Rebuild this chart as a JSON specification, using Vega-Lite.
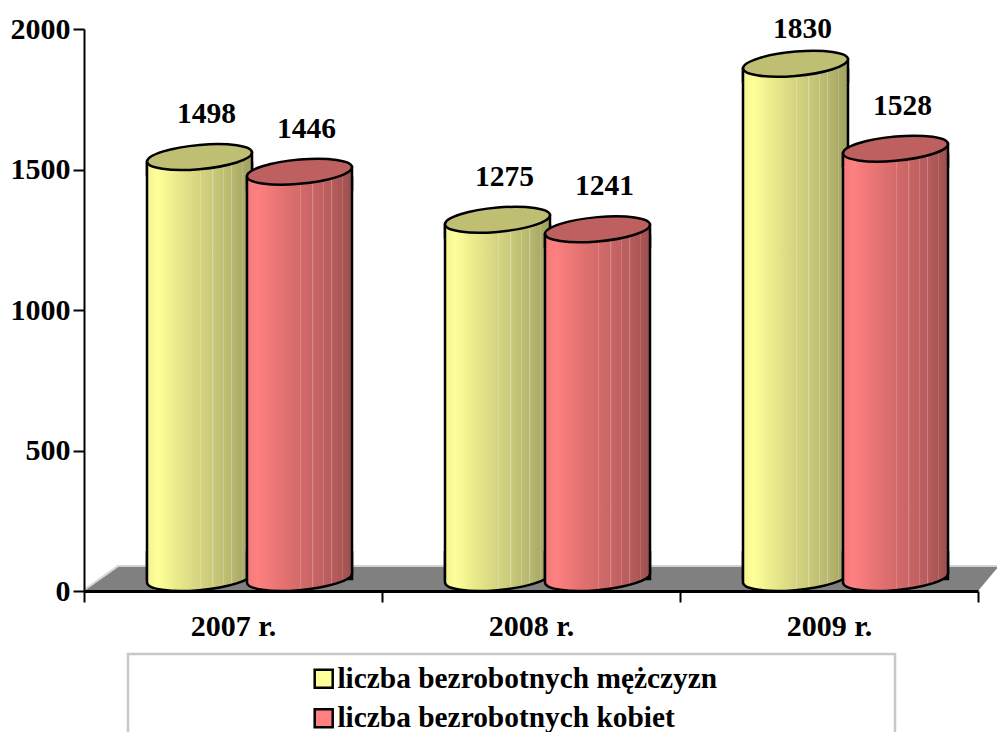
{
"$schema":"https://vega.github.io/schema/vega-lite/v6.json",
"width":894,"height":562,
"autosize":{"type":"none"},
"padding":{"left":84,"top":29,"right":19,"bottom":141},
"background":"white",
"config":{"view":{"stroke":null},"font":"Liberation Serif"},
"datasets":{"d":[
{"rok":"2007 r.","seria":"liczba bezrobotnych mężczyzn","liczba":1498},
{"rok":"2007 r.","seria":"liczba bezrobotnych kobiet","liczba":1446},
{"rok":"2008 r.","seria":"liczba bezrobotnych mężczyzn","liczba":1275},
{"rok":"2008 r.","seria":"liczba bezrobotnych kobiet","liczba":1241},
{"rok":"2009 r.","seria":"liczba bezrobotnych mężczyzn","liczba":1830},
{"rok":"2009 r.","seria":"liczba bezrobotnych kobiet","liczba":1528}
],"decor":[{"rok":"2008 r.","poziom":0}]},
"layer":[
{"data":{"name":"decor"},
"mark":{"type":"point","shape":"M-447,0 L-413,-24 L467,-24 L447,0 Z","size":4,"filled":true,"fill":"#808080","stroke":null,"opacity":1,"clip":false},
"encoding":{"x":{"field":"rok","type":"nominal","title":null,"sort":["2007 r.","2008 r.","2009 r."],"scale":{"paddingInner":0,"paddingOuter":0},
 "axis":{"zindex":1,"labelAngle":0,"labelFont":"Liberation Serif","labelFontWeight":"bold","labelFontSize":30,"labelColor":"black","labelPadding":9,"tickBand":"extent","tickSize":11,"tickWidth":2,"tickColor":"black","domainColor":"black","domainWidth":3}},
 "y":{"field":"poziom","type":"quantitative","title":null,"scale":{"domain":[0,2000]},
 "axis":{"zindex":1,"values":[0,500,1000,1500,2000],"format":"d","grid":false,"labelFont":"Liberation Serif","labelFontWeight":"bold","labelFontSize":30,"labelColor":"black","labelPadding":3,"tickSize":11,"tickWidth":2,"tickColor":"black","domainColor":"black","domainWidth":2}}}},
{"data":{"name":"decor"},
"mark":{"type":"point","shape":"M-447,-1 L-413,-25 L467,-25","size":4,"filled":false,"stroke":"#D4D4D4","strokeWidth":2,"opacity":1,"clip":false},
"encoding":{"x":{"field":"rok","type":"nominal","title":null,"sort":["2007 r.","2008 r.","2009 r."],"scale":{"paddingInner":0,"paddingOuter":0}},"y":{"field":"poziom","type":"quantitative","title":null,"scale":{"domain":[0,2000]}}}},
{"data":{"name":"decor"},
"mark":{"type":"point","shape":"M-403,160 L-403,63 L364,63 L364,160","size":4,"filled":false,"stroke":"#C8C8C8","strokeWidth":2.5,"opacity":1,"clip":false},
"encoding":{"x":{"field":"rok","type":"nominal","title":null,"sort":["2007 r.","2008 r.","2009 r."],"scale":{"paddingInner":0,"paddingOuter":0}},"y":{"field":"poziom","type":"quantitative","title":null,"scale":{"domain":[0,2000]}}}},
{"data":{"name":"d"},
"mark":{"type":"bar","width":90,"yOffset":-7,"y2Offset":-12},
"encoding":{
"x":{"field":"rok","type":"nominal","title":null,"sort":["2007 r.","2008 r.","2009 r."],"scale":{"paddingInner":0,"paddingOuter":0}},
"xOffset":{"field":"seria","type":"nominal","sort":["liczba bezrobotnych mężczyzn","liczba bezrobotnych kobiet"],"scale":{"range":[65.5,265.5],"paddingInner":0,"paddingOuter":0}},
"y":{"field":"liczba","type":"quantitative","stack":null,"title":null,"scale":{"domain":[0,2000]}},
"y2":{"datum":0},
"color":{"field":"seria","type":"nominal","sort":["liczba bezrobotnych mężczyzn","liczba bezrobotnych kobiet"],"scale":{"domain":["liczba bezrobotnych mężczyzn","liczba bezrobotnych kobiet"],"range":["#FFFF99","#FF8080"]},
 "legend":{"title":null,"orient":"none","legendX":225,"legendY":635,"symbolType":"square","symbolSize":324,"symbolStrokeColor":"black","symbolStrokeWidth":2.5,"symbolOpacity":1,"labelFont":"Liberation Serif","labelFontWeight":"bold","labelFontSize":29.4,"labelColor":"black","labelOffset":-1,"rowPadding":8.5,"labelLimit":500}}
}},
{"data":{"name":"d"},
"transform":[{"filter":"datum.seria === 'liczba bezrobotnych mężczyzn'"}],
"encoding":{
"x":{"field":"rok","type":"nominal","title":null,"sort":["2007 r.","2008 r.","2009 r."]},
"xOffset":{"field":"seria","type":"nominal","sort":["liczba bezrobotnych mężczyzn","liczba bezrobotnych kobiet"]},
"y":{"field":"liczba","type":"quantitative","stack":null,"title":null}
},
"layer":[
{"mark":{"type":"bar","width":105,"yOffset":-7,"y2Offset":-12,"stroke":"black","strokeWidth":2.5,"fill":{"gradient":"linear","x1":0,"x2":1,"y1":0,"y2":0,"stops":[{"offset":0,"color":"#F2F292"},{"offset":0.1,"color":"#FFFF99"},{"offset":0.3,"color":"#E8E88C"},{"offset":0.5,"color":"#D4D480"},{"offset":0.505,"color":"#E6E6B4"},{"offset":0.515,"color":"#D3D380"},{"offset":0.62,"color":"#CACA7A"},{"offset":0.625,"color":"#DEDEAE"},{"offset":0.635,"color":"#C9C979"},{"offset":0.72,"color":"#C0C074"},{"offset":0.725,"color":"#D4D4A6"},{"offset":0.735,"color":"#BFBF73"},{"offset":0.8,"color":"#B8B86F"},{"offset":0.805,"color":"#CCCC9E"},{"offset":0.815,"color":"#B7B76E"},{"offset":0.9,"color":"#ACAC68"},{"offset":0.905,"color":"#C0C096"},{"offset":0.915,"color":"#ABAB67"},{"offset":1,"color":"#A0A060"}]}},
 "encoding":{"y2":{"datum":0}}},
{"mark":{"type":"point","shape":"M-52.5,-40 L-52.5,-8.5 A52.7,12.1 -5.2 0 0 52.5,-17.5 L52.5,-40","size":4,"filled":true,"stroke":"black","strokeWidth":2.5,"opacity":1,"clip":false,"fill":{"gradient":"linear","x1":0,"x2":1,"y1":0,"y2":0,"stops":[{"offset":0,"color":"#F2F292"},{"offset":0.1,"color":"#FFFF99"},{"offset":0.3,"color":"#E8E88C"},{"offset":0.5,"color":"#D4D480"},{"offset":0.505,"color":"#E6E6B4"},{"offset":0.515,"color":"#D3D380"},{"offset":0.62,"color":"#CACA7A"},{"offset":0.625,"color":"#DEDEAE"},{"offset":0.635,"color":"#C9C979"},{"offset":0.72,"color":"#C0C074"},{"offset":0.725,"color":"#D4D4A6"},{"offset":0.735,"color":"#BFBF73"},{"offset":0.8,"color":"#B8B86F"},{"offset":0.805,"color":"#CCCC9E"},{"offset":0.815,"color":"#B7B76E"},{"offset":0.9,"color":"#ACAC68"},{"offset":0.905,"color":"#C0C096"},{"offset":0.915,"color":"#ABAB67"},{"offset":1,"color":"#A0A060"}]}},
 "encoding":{"y":{"datum":0}}},
{"mark":{"type":"point","shape":"M-52.5,6 L-52.5,-8.5 L52.5,-17.5 L52.5,6","size":4,"filled":true,"stroke":"black","strokeWidth":2.5,"opacity":1,"clip":false,"fill":{"gradient":"linear","x1":0,"x2":1,"y1":0,"y2":0,"stops":[{"offset":0,"color":"#F2F292"},{"offset":0.1,"color":"#FFFF99"},{"offset":0.3,"color":"#E8E88C"},{"offset":0.5,"color":"#D4D480"},{"offset":0.505,"color":"#E6E6B4"},{"offset":0.515,"color":"#D3D380"},{"offset":0.62,"color":"#CACA7A"},{"offset":0.625,"color":"#DEDEAE"},{"offset":0.635,"color":"#C9C979"},{"offset":0.72,"color":"#C0C074"},{"offset":0.725,"color":"#D4D4A6"},{"offset":0.735,"color":"#BFBF73"},{"offset":0.8,"color":"#B8B86F"},{"offset":0.805,"color":"#CCCC9E"},{"offset":0.815,"color":"#B7B76E"},{"offset":0.9,"color":"#ACAC68"},{"offset":0.905,"color":"#C0C096"},{"offset":0.915,"color":"#ABAB67"},{"offset":1,"color":"#A0A060"}]}}},
{"mark":{"type":"point","shape":"M-52.5,-8.5 A52.7,12.1 -5.2 1 1 52.5,-17.5 A52.7,12.1 -5.2 1 1 -52.5,-8.5 Z","size":4,"filled":true,"fill":"#BFBF73","stroke":"black","strokeWidth":2.5,"opacity":1,"clip":false}}
]},
{"data":{"name":"d"},
"transform":[{"filter":"datum.seria === 'liczba bezrobotnych kobiet'"}],
"encoding":{
"x":{"field":"rok","type":"nominal","title":null,"sort":["2007 r.","2008 r.","2009 r."]},
"xOffset":{"field":"seria","type":"nominal","sort":["liczba bezrobotnych mężczyzn","liczba bezrobotnych kobiet"]},
"y":{"field":"liczba","type":"quantitative","stack":null,"title":null}
},
"layer":[
{"mark":{"type":"bar","width":105,"yOffset":-7,"y2Offset":-12,"stroke":"black","strokeWidth":2.5,"fill":{"gradient":"linear","x1":0,"x2":1,"y1":0,"y2":0,"stops":[{"offset":0,"color":"#F27A7A"},{"offset":0.1,"color":"#FF8080"},{"offset":0.3,"color":"#E87474"},{"offset":0.5,"color":"#D46A6A"},{"offset":0.505,"color":"#E49898"},{"offset":0.515,"color":"#D36A6A"},{"offset":0.62,"color":"#CA6565"},{"offset":0.625,"color":"#DA9494"},{"offset":0.635,"color":"#C96464"},{"offset":0.72,"color":"#C06060"},{"offset":0.725,"color":"#D08C8C"},{"offset":0.735,"color":"#BF5F5F"},{"offset":0.8,"color":"#B85C5C"},{"offset":0.805,"color":"#C88888"},{"offset":0.815,"color":"#B75B5B"},{"offset":0.9,"color":"#AC5656"},{"offset":0.905,"color":"#BC8080"},{"offset":0.915,"color":"#AB5555"},{"offset":1,"color":"#995050"}]}},
 "encoding":{"y2":{"datum":0}}},
{"mark":{"type":"point","shape":"M-52.5,-40 L-52.5,-8.5 A52.7,12.1 -5.2 0 0 52.5,-17.5 L52.5,-40","size":4,"filled":true,"stroke":"black","strokeWidth":2.5,"opacity":1,"clip":false,"fill":{"gradient":"linear","x1":0,"x2":1,"y1":0,"y2":0,"stops":[{"offset":0,"color":"#F27A7A"},{"offset":0.1,"color":"#FF8080"},{"offset":0.3,"color":"#E87474"},{"offset":0.5,"color":"#D46A6A"},{"offset":0.505,"color":"#E49898"},{"offset":0.515,"color":"#D36A6A"},{"offset":0.62,"color":"#CA6565"},{"offset":0.625,"color":"#DA9494"},{"offset":0.635,"color":"#C96464"},{"offset":0.72,"color":"#C06060"},{"offset":0.725,"color":"#D08C8C"},{"offset":0.735,"color":"#BF5F5F"},{"offset":0.8,"color":"#B85C5C"},{"offset":0.805,"color":"#C88888"},{"offset":0.815,"color":"#B75B5B"},{"offset":0.9,"color":"#AC5656"},{"offset":0.905,"color":"#BC8080"},{"offset":0.915,"color":"#AB5555"},{"offset":1,"color":"#995050"}]}},
 "encoding":{"y":{"datum":0}}},
{"mark":{"type":"point","shape":"M-52.5,6 L-52.5,-8.5 L52.5,-17.5 L52.5,6","size":4,"filled":true,"stroke":"black","strokeWidth":2.5,"opacity":1,"clip":false,"fill":{"gradient":"linear","x1":0,"x2":1,"y1":0,"y2":0,"stops":[{"offset":0,"color":"#F27A7A"},{"offset":0.1,"color":"#FF8080"},{"offset":0.3,"color":"#E87474"},{"offset":0.5,"color":"#D46A6A"},{"offset":0.505,"color":"#E49898"},{"offset":0.515,"color":"#D36A6A"},{"offset":0.62,"color":"#CA6565"},{"offset":0.625,"color":"#DA9494"},{"offset":0.635,"color":"#C96464"},{"offset":0.72,"color":"#C06060"},{"offset":0.725,"color":"#D08C8C"},{"offset":0.735,"color":"#BF5F5F"},{"offset":0.8,"color":"#B85C5C"},{"offset":0.805,"color":"#C88888"},{"offset":0.815,"color":"#B75B5B"},{"offset":0.9,"color":"#AC5656"},{"offset":0.905,"color":"#BC8080"},{"offset":0.915,"color":"#AB5555"},{"offset":1,"color":"#995050"}]}}},
{"mark":{"type":"point","shape":"M-52.5,-8.5 A52.7,12.1 -5.2 1 1 52.5,-17.5 A52.7,12.1 -5.2 1 1 -52.5,-8.5 Z","size":4,"filled":true,"fill":"#BF6060","stroke":"black","strokeWidth":2.5,"opacity":1,"clip":false}}
]},
{"data":{"name":"d"},
"transform":[{"filter":"datum.liczba < 1800"}],
"mark":{"type":"text","font":"Liberation Serif","fontWeight":"bold","fontSize":29.5,"color":"black","dx":7,"dy":-56,"baseline":"middle","align":"center","clip":false},
"encoding":{
"x":{"field":"rok","type":"nominal","title":null,"sort":["2007 r.","2008 r.","2009 r."]},
"xOffset":{"field":"seria","type":"nominal","sort":["liczba bezrobotnych mężczyzn","liczba bezrobotnych kobiet"]},
"y":{"field":"liczba","type":"quantitative","stack":null,"title":null},
"text":{"field":"liczba","type":"quantitative","format":"d"}
}},
{"data":{"name":"d"},
"transform":[{"filter":"datum.liczba >= 1800"}],
"mark":{"type":"text","font":"Liberation Serif","fontWeight":"bold","fontSize":29.5,"color":"black","dx":7,"dy":-48,"baseline":"middle","align":"center","clip":false},
"encoding":{
"x":{"field":"rok","type":"nominal","title":null,"sort":["2007 r.","2008 r.","2009 r."]},
"xOffset":{"field":"seria","type":"nominal","sort":["liczba bezrobotnych mężczyzn","liczba bezrobotnych kobiet"]},
"y":{"field":"liczba","type":"quantitative","stack":null,"title":null},
"text":{"field":"liczba","type":"quantitative","format":"d"}
}}
]
}
